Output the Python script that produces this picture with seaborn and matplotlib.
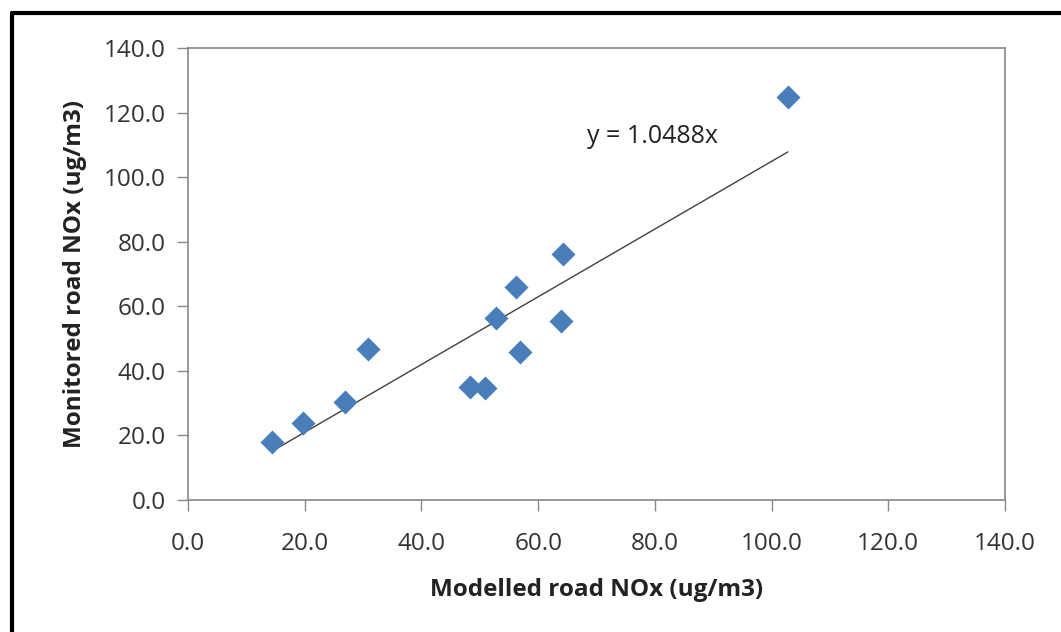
import numpy as np
import pandas as pd
import matplotlib
matplotlib.use("Agg")
import matplotlib.pyplot as plt
from matplotlib.lines import Line2D
import seaborn as sns

# -----------------------------
# Data
# -----------------------------
modelled = [14.4, 19.7, 26.9, 30.8, 48.3, 50.9, 52.8, 56.2, 56.9, 63.9, 64.3, 102.8]
monitored = [18.0, 23.8, 30.3, 46.8, 35.0, 34.7, 56.4, 66.0, 45.8, 55.4, 76.2, 124.8]
slope = 1.0488
ticks = [0, 20, 40, 60, 80, 100, 120, 140]

df = pd.DataFrame({"modelled": modelled, "monitored": monitored})

sns.set_theme(style="white")
plt.rcParams["font.family"] = ["Open Sans", "DejaVu Sans"]

fig = plt.figure(figsize=(10.61, 6.32), dpi=100)
ax = fig.add_axes([0.1772, 0.2089, 0.7700, 0.7152])

# scatter points
sns.scatterplot(data=df, x="modelled", y="monitored", marker="D",
                s=150, color="#4a7ebb", linewidth=0, ax=ax, zorder=3)

# linear trendline through origin, drawn over the data range
xs = np.array([min(modelled), max(modelled)])
ax.plot(xs, slope * xs, color="#404040", lw=1.0, zorder=2)
ax.text(68.3, 112.5, "y = 1.0488x", fontsize=18, color="#222222",
        va="center", ha="left")

ax.set_xlim(0, 140)
ax.set_ylim(0, 140)
ax.set_xticks(ticks)
ax.set_yticks(ticks)
ax.set_xticklabels([f"{t:.1f}" for t in ticks])
ax.set_yticklabels([f"{t:.1f}" for t in ticks])
ax.tick_params(axis="both", which="major", length=8, width=1, color="#888888",
               labelsize=17.5, labelcolor="#333333", direction="out",
               bottom=True, left=True, pad=8)
ax.tick_params(axis="x", pad=15)
for sp in ax.spines.values():
    sp.set_color("#888888")
    sp.set_linewidth(1.2)

ax.set_xlabel("Modelled road NOx (ug/m3)", fontsize=17.5, fontweight="bold",
              color="#222222", labelpad=16)
ax.set_ylabel("Monitored road NOx (ug/m3)", fontsize=17.5, fontweight="bold",
              color="#222222", labelpad=12)

# outer frame (left and top edges visible, as in the clipped screenshot)
fig.add_artist(Line2D([0.011, 0.011], [0.0, 0.979], transform=fig.transFigure,
                      color="black", lw=3))
fig.add_artist(Line2D([0.011, 1.0], [0.979, 0.979], transform=fig.transFigure,
                      color="black", lw=3))

fig.savefig("out.png", dpi=100)
